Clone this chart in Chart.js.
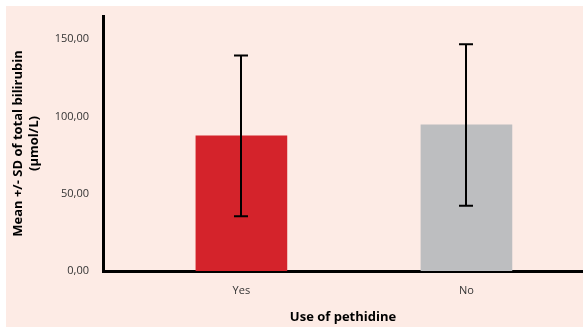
<!DOCTYPE html>
<html>
<head>
<meta charset="utf-8">
<script src="https://cdn.jsdelivr.net/npm/chart.js@4.4.1/dist/chart.umd.min.js"></script>
<style>
  html, body { margin: 0; padding: 0; background: #ffffff; }
  #wrap { position: absolute; left: 6px; top: 6px; width: 577px; height: 321px; background: #fdebe5; }
  canvas { display: block; }
</style>
</head>
<body>
<div id="wrap"><canvas id="c" width="577" height="321"></canvas></div>
<script>
// Bilirubin by pethidine use: group means and standard deviations (µmol/L)
const categories = ['Yes', 'No'];
const means = [87.5, 94.5];
const sds = [52.0, 52.3];
const barColors = ['#d4232b', '#bdbec0'];
const yTicks = [0, 50, 100, 150];

const points = categories.map((c, i) => ({ x: i, y: means[i] }));

// Whiskers for mean ± SD, positioned through the chart scales
const errorBars = {
  id: 'errorBars',
  afterDatasetsDraw(chart) {
    const { ctx, scales: { y } } = chart;
    const meta = chart.getDatasetMeta(0);
    ctx.save();
    ctx.strokeStyle = '#000';
    ctx.lineWidth = 2;
    meta.data.forEach((bar, i) => {
      const x = Math.round(bar.x);
      const top = y.getPixelForValue(means[i] + sds[i]);
      const bot = y.getPixelForValue(means[i] - sds[i]);
      ctx.beginPath();
      ctx.moveTo(x, top); ctx.lineTo(x, bot);
      ctx.moveTo(x - 7, top); ctx.lineTo(x + 7, top);
      ctx.moveTo(x - 7, bot); ctx.lineTo(x + 7, bot);
      ctx.stroke();
    });
    ctx.restore();
  }
};

new Chart(document.getElementById('c'), {
  type: 'bar',
  data: {
    datasets: [{
      data: points,
      backgroundColor: barColors,
      borderWidth: 0,
      barThickness: 91
    }]
  },
  options: {
    responsive: false,
    animation: false,
    layout: { padding: { top: 10, left: 0, right: 0, bottom: 0 } },
    plugins: { legend: { display: false }, tooltip: { enabled: false } },
    scales: {
      x: {
        type: 'linear',
        offset: false,
        min: -0.615,
        max: 1.518,
        afterBuildTicks: (s) => { s.ticks = categories.map((c, i) => ({ value: i })); },
        afterFit: (s) => { s.height = 56; },
        grid: { display: false, drawTicks: false, offset: false },
        border: { display: true, color: '#000', width: 3 },
        ticks: {
          padding: 13,
          color: '#333',
          font: { family: 'Open Sans', size: 11 },
          callback: (v) => categories[v]
        },
        title: {
          display: true,
          text: 'Use of pethidine',
          color: '#000',
          font: { family: 'Open Sans', size: 13, weight: 'bold' },
          padding: { top: 1, bottom: 2 }
        }
      },
      y: {
        min: 0,
        max: 165,
        afterBuildTicks: (s) => { s.ticks = yTicks.map(v => ({ value: v })); },
        afterFit: (s) => { s.width = 97; s.paddingTop = 0; s.paddingBottom = 0; },
        grid: { display: false, drawTicks: false },
        border: { display: true, color: '#000', width: 3 },
        ticks: {
          padding: 14,
          color: '#333',
          font: { family: 'Open Sans', size: 11 },
          callback: (v) => v.toFixed(2).replace('.', ',')
        },
        title: {
          display: true,
          text: ['Mean +/- SD of total bilirubin', '(µmol/L)'],
          color: '#000',
          font: { family: 'Open Sans', size: 13, weight: 'bold', lineHeight: 1.25 },
          padding: { top: 4, bottom: 0 }
        }
      }
    }
  },
  plugins: [errorBars]
});
</script>
</body>
</html>
